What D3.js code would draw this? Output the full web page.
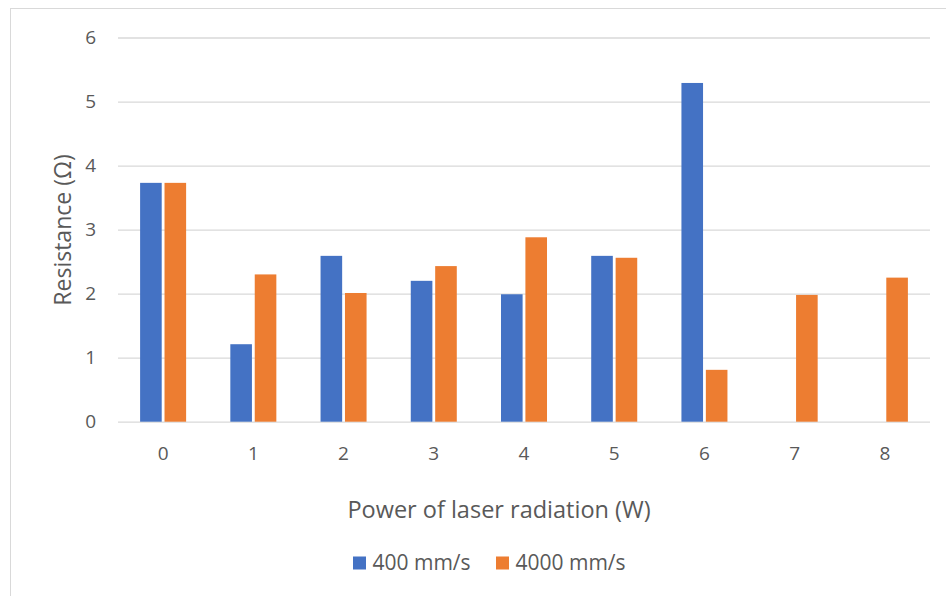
<!DOCTYPE html>
<html>
<head>
<meta charset="utf-8">
<script src="https://cdn.jsdelivr.net/npm/d3@7"></script>
<style>
  body { margin: 0; background: #fff; }
  text { font-family: "Open Sans", sans-serif; fill: #595959; }
</style>
</head>
<body>
<div id="chart"></div>
<script>
// power of laser radiation (W)
var categories = ["0", "1", "2", "3", "4", "5", "6", "7", "8"];
var seriesNames = ["400 mm/s", "4000 mm/s"];
var v400 = [3.73, 1.21, 2.59, 2.20, 1.99, 2.59, 5.29, null, null];
var v4000 = [3.73, 2.30, 2.01, 2.43, 2.88, 2.56, 0.81, 1.98, 2.25];
var yTicks = [0, 1, 2, 3, 4, 5, 6];
var colors = ["#4472C4", "#ED7D31"];

var W = 946, H = 596;
var padL = 118, padR = 930, padT = 37.5, padB = 421.7;
var fontFam = "'Open Sans', sans-serif";

var svg = d3.select("#chart")
    .append("svg")
    .attr("width", W)
    .attr("height", H);

// chart border
svg.append("rect")
    .attr("x", 10.5)
    .attr("y", 8.5)
    .attr("width", W)
    .attr("height", H)
    .attr("fill", "#fff")
    .attr("stroke", "#d9d9d9")
    .attr("stroke-width", 1);

var x = d3.scaleBand()
    .domain(categories)
    .range([padL, padR])
    .paddingInner(0.49)
    .paddingOuter(0.245);

var x1 = d3.scaleBand()
    .domain(seriesNames)
    .range([0, x.bandwidth()])
    .paddingInner(0.115);

var y = d3.scaleLinear()
    .domain([0, 6])
    .range([padB, padT]);

// gridlines + y labels
var yAxis = svg.append("g")
    .attr("transform", "translate(" + padL + ",0)")
    .call(d3.axisLeft(y).tickValues(yTicks).tickFormat(d3.format("d"))
        .tickSize(-(padR - padL)).tickPadding(22));
yAxis.select(".domain").remove();
yAxis.selectAll("line").attr("stroke", "#d9d9d9").attr("stroke-width", 1.3);
yAxis.selectAll("text")
    .attr("font-family", fontFam)
    .attr("font-size", "19px")
    .attr("fill", "#595959");

// x labels
var xAxis = svg.append("g")
    .attr("transform", "translate(0," + padB + ")")
    .call(d3.axisBottom(x).tickSize(0).tickPadding(25));
xAxis.select(".domain").remove();
xAxis.selectAll("text")
    .attr("font-family", fontFam)
    .attr("font-size", "19px")
    .attr("fill", "#595959");

var rows = categories.map(function (c, i) {
    return { cat: c, vals: [v400[i], v4000[i]] };
});

var groups = svg.append("g").selectAll("g")
    .data(rows)
    .join("g")
    .attr("transform", function (d) { return "translate(" + x(d.cat) + ",0)"; });

groups.selectAll("rect")
    .data(function (d) {
        return d.vals.map(function (v, k) { return { s: seriesNames[k], v: v, k: k }; })
            .filter(function (e) { return e.v != null; });
    })
    .join("rect")
    .attr("x", function (d) { return x1(d.s); })
    .attr("y", function (d) { return y(d.v); })
    .attr("width", x1.bandwidth())
    .attr("height", function (d) { return y(0) - y(d.v); })
    .attr("fill", function (d) { return colors[d.k]; });

// axis titles
svg.append("text")
    .attr("x", 499)
    .attr("y", 517.5)
    .attr("text-anchor", "middle")
    .attr("font-size", "23.5px")
    .text("Power of laser radiation (W)");

svg.append("text")
    .attr("transform", "translate(71,230) rotate(-90)")
    .attr("text-anchor", "middle")
    .attr("font-size", "23px")
    .text("Resistance (Ω)");

// legend
var legendX = [353, 496];
var leg = svg.append("g").selectAll("g")
    .data(seriesNames)
    .join("g")
    .attr("transform", function (d, i) { return "translate(" + legendX[i] + ",556.5)"; });
leg.append("rect")
    .attr("width", 13)
    .attr("height", 13)
    .attr("fill", function (d, i) { return colors[i]; });
leg.append("text")
    .attr("x", 19.5)
    .attr("y", 13.5)
    .attr("font-size", "21px")
    .text(function (d) { return d; });
</script>
</body>
</html>
